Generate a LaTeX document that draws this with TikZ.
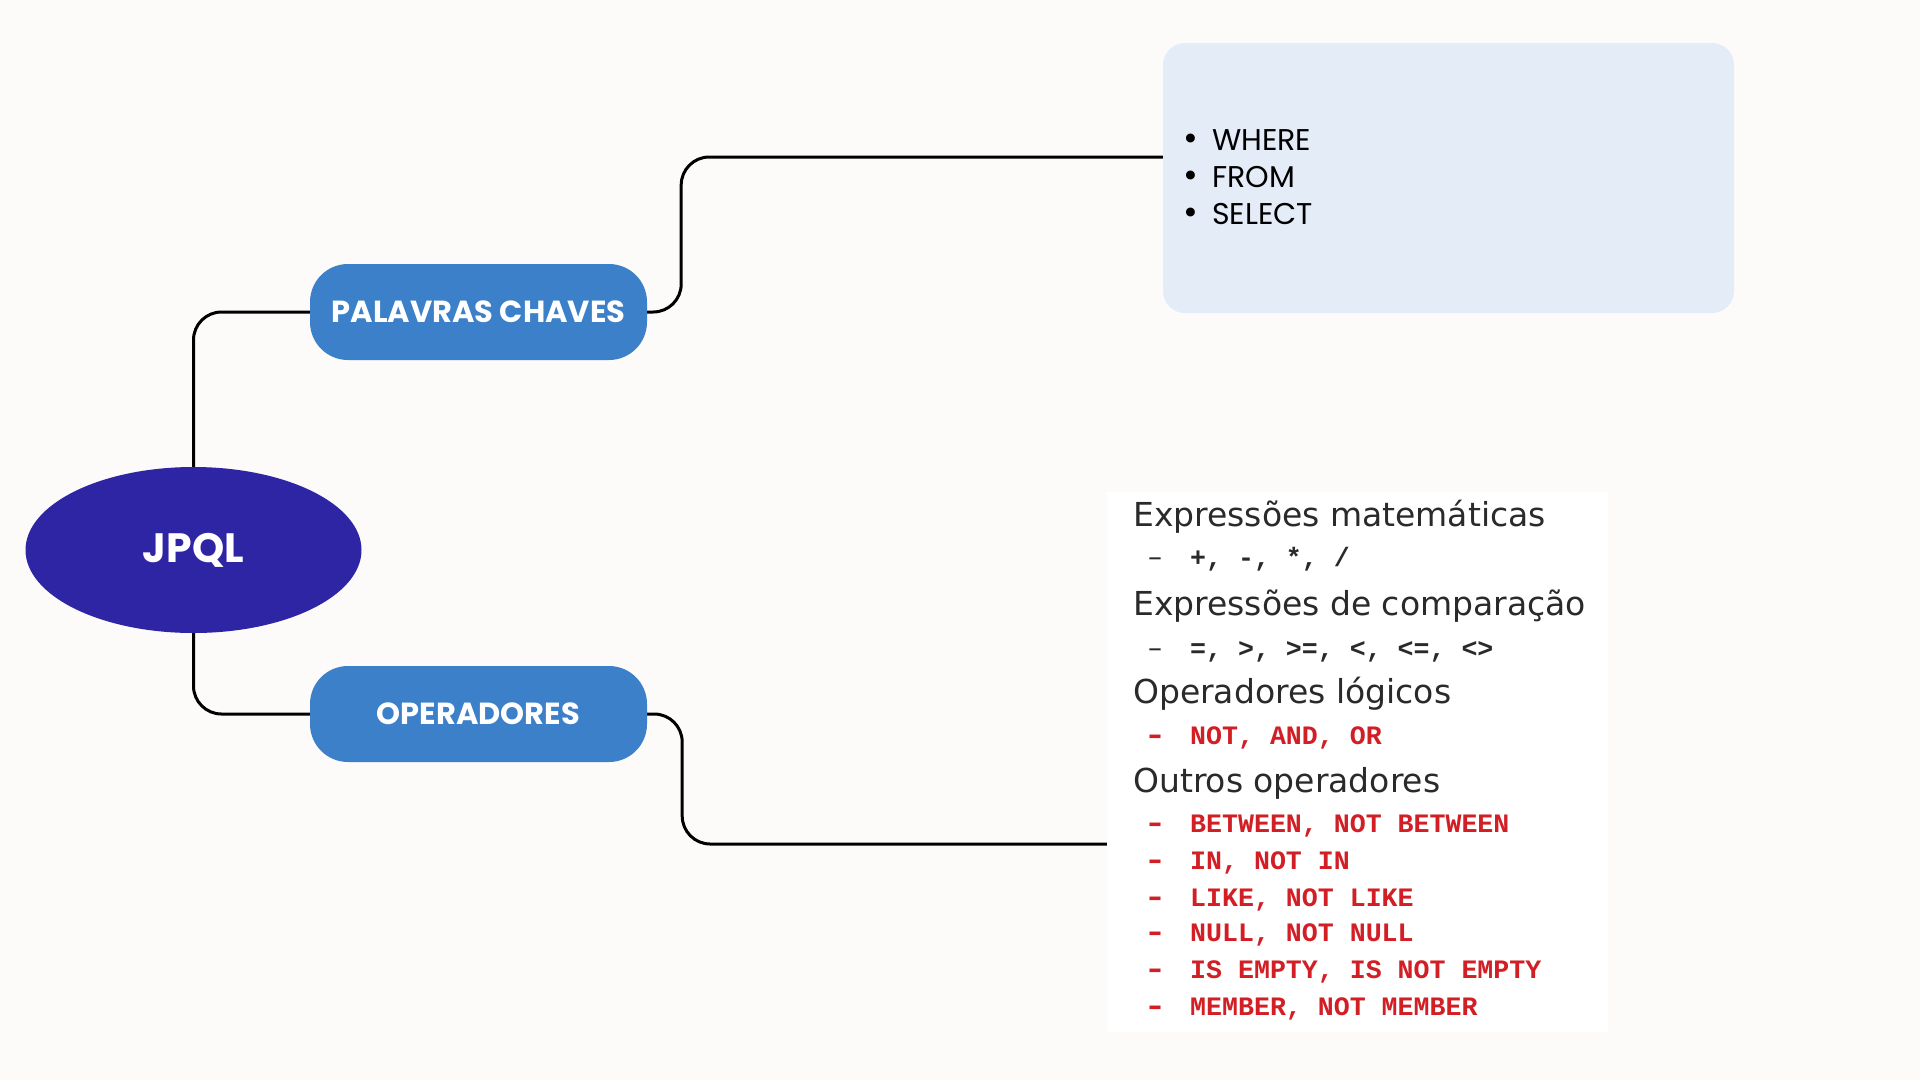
\documentclass[tikz,border=0pt]{standalone}
\usepackage{fontspec}
\setmainfont{Poppins}
\newfontfamily\popf{Poppins}
\newfontfamily\tahf{DejaVu Sans}
\newfontfamily\monof{Liberation Mono}
\usetikzlibrary{shapes.geometric}
\definecolor{bgc}{HTML}{FCFBF9}
\definecolor{navy}{HTML}{2E25A5}
\definecolor{midblue}{HTML}{3B80C8}
\definecolor{paleblue}{HTML}{E4ECF8}
\definecolor{redop}{HTML}{D21F26}
\definecolor{darkg}{HTML}{2A2A2A}
\begin{document}
\begin{tikzpicture}[x=1pt,y=-1pt,
  conn/.style={line width=3pt, rounded corners=28pt},
  topic/.style={fill=midblue, rounded corners=38pt, minimum width=337pt, minimum height=96pt, text=white, font=\popf\bfseries\fontsize{30.5}{34}\selectfont, inner sep=0pt},
  bul/.style={anchor=base west, inner sep=0pt, font=\popf\fontsize{30}{34}\selectfont, text=black},
  bdot/.style={anchor=base west, inner sep=0pt, font=\popf\fontsize{36}{34}\selectfont, text=black},
  head/.style={anchor=base west, inner sep=0pt, font=\tahf\fontsize{33}{36}\selectfont, text=darkg},
  dashg/.style={anchor=base west, inner sep=0pt, font=\tahf\fontsize{28}{30}\selectfont, text=darkg},
  dashr/.style={anchor=base west, inner sep=0pt, font=\tahf\bfseries\fontsize{28}{30}\selectfont, text=redop},
  monog/.style={anchor=base west, inner sep=0pt, font=\monof\bfseries\fontsize{26.6}{30}\selectfont, text=darkg},
  monor/.style={anchor=base west, inner sep=0pt, font=\monof\bfseries\fontsize{26.6}{30}\selectfont, text=redop}
]
\useasboundingbox (0,0) rectangle (1920,1080);
\fill[bgc] (0,0) rectangle (1920,1080);

\node[ellipse, fill=navy, minimum width=336pt, minimum height=166pt, inner sep=0pt, text=white, font=\popf\bfseries\fontsize{41}{46}\selectfont] (jpql) at (193.5,550) {JPQL};
\node[topic] (pal) at (478.5,312) {PALAVRAS CHAVES};
\node[topic] (op) at (478.5,714) {OPERADORES};

\node[fill=paleblue, rounded corners=22pt, minimum width=571pt, minimum height=270pt, inner sep=0pt] (info) at (1448.5,178) {};
\node[fill=white, minimum width=501pt, minimum height=540pt, inner sep=0pt] (img) at (1357.5,762) {};

\draw[conn] (jpql.north) |- (pal.west);
\draw[conn] (jpql.south) |- (op.west);
\draw[conn] (pal.east) -- ++(34,0) |- ([yshift=21pt]info.west);
\draw[conn] (op.east) -- ++(35,0) |- ([yshift=-82pt]img.west);

% bullet list
\node[bdot] (b1) at (1183,150) {\textbullet};
\node[bul] (t1) at (1212,150) {WHERE};
\node[bdot] (b2) at (1183,187) {\textbullet};
\node[bul] (t2) at (1212,187) {FROM};
\node[bdot] (b3) at (1183,224) {\textbullet};
\node[bul] (t3) at (1212,224) {SELECT};

% operators list
\node[head] (h1) at (1133,526) {Expressões matemáticas};
\node[dashg] (d1) at (1148,566) {–};
\node[monog] (m1) at (1190,566) {+, -, *, /};
\node[head] (h2) at (1133,615) {Expressões de comparação};
\node[dashg] (d2) at (1148,657) {–};
\node[monog] (m2) at (1190,657) {=, >, >=, <, <=, <>};
\node[head] (h3) at (1133,703) {Operadores lógicos};
\node[dashr] (d3) at (1148,744) {–};
\node[monor] (m3) at (1190,744) {NOT, AND, OR};
\node[head] (h4) at (1133,792) {Outros operadores};
\node[dashr] (d4) at (1148,832) {–};
\node[monor] (m4) at (1190,832) {BETWEEN, NOT BETWEEN};
\node[dashr] (d5) at (1148,869) {–};
\node[monor] (m5) at (1190,869) {IN, NOT IN};
\node[dashr] (d6) at (1148,906) {–};
\node[monor] (m6) at (1190,906) {LIKE, NOT LIKE};
\node[dashr] (d7) at (1148,941) {–};
\node[monor] (m7) at (1190,941) {NULL, NOT NULL};
\node[dashr] (d8) at (1148,978) {–};
\node[monor] (m8) at (1190,978) {IS EMPTY, IS NOT EMPTY};
\node[dashr] (d9) at (1148,1015) {–};
\node[monor] (m9) at (1190,1015) {MEMBER, NOT MEMBER};
\end{tikzpicture}
\end{document}
